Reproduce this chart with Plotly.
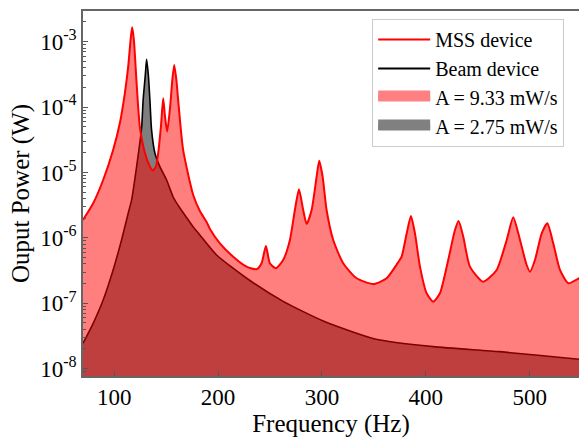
import plotly.graph_objects as go

# MSS device output power (W) vs frequency (Hz)
mss_freq = [70, 79.8, 89.4, 99.0, 105.5, 110.3, 113.5, 115.8, 117.3, 119.0, 121.6, 124.7,
            129.6, 134.4, 137.0, 140.2, 142.4, 145.0, 147.2, 148.8, 151.0, 153.6, 156.0,
            157.8, 159.9, 161.6, 166.4, 176.1, 182.5, 189.0, 192.2, 201.8, 214.6, 227.5,
            237.1, 241.9, 246.1, 249.9, 255.7, 262.7, 269.2, 274.0, 277.9, 282.0, 285.3,
            290.1, 294.9, 297.4, 300.7, 304.5, 310.9, 320.5, 333.4, 349.4, 362.3, 371.9,
            376.7, 381.6, 385.7, 389.6, 394.4, 400.8, 407.2, 413.6, 421.6, 428.1, 431.6,
            436.1, 442.5, 455.3, 468.2, 477.9, 484.2, 490.7, 497.1, 500.3, 505.1, 511.6,
            517.0, 522.7, 529.2, 537.2, 547.5, 550]
mss_power = [1.88e-6, 3.38e-6, 7.67e-6, 2.21e-5, 5.71e-5, 1.64e-4, 4.15e-4, 1.06e-3, 1.66e-3,
             1.06e-3, 2.31e-4, 5.01e-5, 1.99e-5, 1.23e-5, 1.07e-5, 1.23e-5, 1.99e-5, 5.01e-5,
             1.36e-4, 7.57e-5, 4.21e-5, 9.04e-5, 2.6e-4, 4.41e-4, 2.6e-4, 1.29e-4, 2.21e-5,
             4.53e-6, 2.58e-6, 1.75e-6, 1.37e-6, 8.26e-7, 5.16e-7, 3.63e-7, 3.31e-7, 4.09e-7,
             7.51e-7, 4.09e-7, 3.43e-7, 4.59e-7, 9.29e-7, 2.67e-6, 5.53e-6, 2.67e-6, 1.63e-6,
             2.67e-6, 8.63e-6, 1.51e-5, 8.63e-6, 2.67e-6, 9.29e-7, 4.09e-7, 2.41e-7, 1.97e-7,
             2.41e-7, 3.9e-7, 5.16e-7, 1.17e-6, 2.16e-6, 1.17e-6, 3.63e-7, 1.42e-7, 1.06e-7,
             1.42e-7, 4.59e-7, 1.32e-6, 1.81e-6, 1.04e-6, 3.63e-7, 2.14e-7, 3.23e-7, 9.29e-7,
             2.07e-6, 9.29e-7, 3.85e-7, 3.04e-7, 4.59e-7, 1.17e-6, 1.67e-6, 8.26e-7, 3.23e-7,
             2.02e-7, 2.41e-7, 2.5e-7]

# Beam device output power (W) vs frequency (Hz)
beam_freq = [70, 79.8, 89.4, 99.0, 107.1, 113.5, 116.8, 121.6, 126.4, 127.9, 130.0, 131.2,
             132.9, 134.4, 136.0, 139.2, 144.0, 150.5, 156.8, 163.3, 169.7, 176.1, 182.5,
             198.6, 230.7, 262.7, 301.3, 351.0, 407.2, 471.4, 547.5, 550]
beam_power = [2.44e-8, 4.94e-8, 1.12e-7, 3.23e-7, 9.29e-7, 2.38e-6, 3.80e-6, 1.23e-5, 4.78e-5,
              1.29e-4, 3.10e-4, 5.38e-4, 3.10e-4, 1.29e-4, 4.47e-5, 1.99e-5, 1.23e-5, 7.67e-6,
              4.22e-6, 2.86e-6, 2.05e-6, 1.47e-6, 1.11e-6, 5.48e-7, 2.23e-7, 1.07e-7, 5.36e-8,
              2.85e-8, 2.17e-8, 1.82e-8, 1.39e-8, 1.38e-8]

series_names = ["MSS device", "Beam device", "A = 9.33 mW/s", "A = 2.75 mW/s"]
x_ticks = [100, 200, 300, 400, 500]
y_ticks = [1e-8, 1e-7, 1e-6, 1e-5, 1e-4, 1e-3]
y_ticktext = ["10<sup>-8</sup>", "10<sup>-7</sup>", "10<sup>-6</sup>",
              "10<sup>-5</sup>", "10<sup>-4</sup>", "10<sup>-3</sup>"]

FONT = "Liberation Serif, Times New Roman, serif"

fig = go.Figure()
# Beam device: filled area then line
fig.add_trace(go.Scatter(x=beam_freq, y=beam_power, mode="lines", fill="tozeroy",
                         fillcolor="rgba(0,0,0,0.5)",
                         line=dict(color="black", width=1.6, shape="spline", smoothing=0.6),
                         showlegend=False, hoverinfo="skip"))
# MSS device: filled area then line
fig.add_trace(go.Scatter(x=mss_freq, y=mss_power, mode="lines", fill="tozeroy",
                         fillcolor="rgba(255,0,0,0.5)",
                         line=dict(color="red", width=2, shape="spline", smoothing=0.6),
                         showlegend=False, hoverinfo="skip"))

# legend entries
fig.add_trace(go.Scatter(x=[None], y=[None], mode="lines", name=series_names[0],
                         line=dict(color="red", width=2)))
fig.add_trace(go.Scatter(x=[None], y=[None], mode="lines", name=series_names[1],
                         line=dict(color="black", width=2)))
fig.add_trace(go.Scatter(x=[None], y=[None], mode="lines", name=series_names[2], fill="toself",
                         fillcolor="#FF8080", line=dict(color="#FF8080", width=10)))
fig.add_trace(go.Scatter(x=[None], y=[None], mode="lines", name=series_names[3], fill="toself",
                         fillcolor="#808080", line=dict(color="#808080", width=10)))

fig.update_layout(
    width=579, height=438,
    margin=dict(l=83, r=0, t=11, b=62),
    paper_bgcolor="white", plot_bgcolor="white",
    font=dict(family=FONT, color="black"),
    showlegend=True,
    legend=dict(x=0.583, y=0.978, xanchor="left", yanchor="top",
                bgcolor="white", bordercolor="#cccccc", borderwidth=1,
                font=dict(family=FONT, size=20, color="black"),
                itemwidth=52, tracegroupgap=0),
    xaxis=dict(range=[70, 547.5], tickvals=x_ticks, ticktext=[str(v) for v in x_ticks],
               ticks="inside", ticklen=5, tickcolor="#555", showline=True, linecolor="#666",
               linewidth=1.5, mirror=True, showgrid=False, zeroline=False,
               tickfont=dict(family=FONT, size=23),
               title=dict(text="Frequency (Hz)", font=dict(family=FONT, size=25), standoff=1)),
    yaxis=dict(type="log", range=[-8.112, -2.531], tickvals=y_ticks, ticktext=y_ticktext,
               ticks="inside", ticklen=5, tickcolor="#555",
               minor=dict(ticks="inside", ticklen=3, tickcolor="#555", dtick="D1", showgrid=False),
               showline=True, linecolor="#666", linewidth=1.5, showgrid=False, zeroline=False,
               tickfont=dict(family=FONT, size=23),
               title=dict(text="Ouput Power (W)", font=dict(family=FONT, size=25), standoff=3)),
)

fig.write_html("out.html", config={"displayModeBar": False},
               post_script="document.body.style.margin='0';document.body.style.padding='0';")
